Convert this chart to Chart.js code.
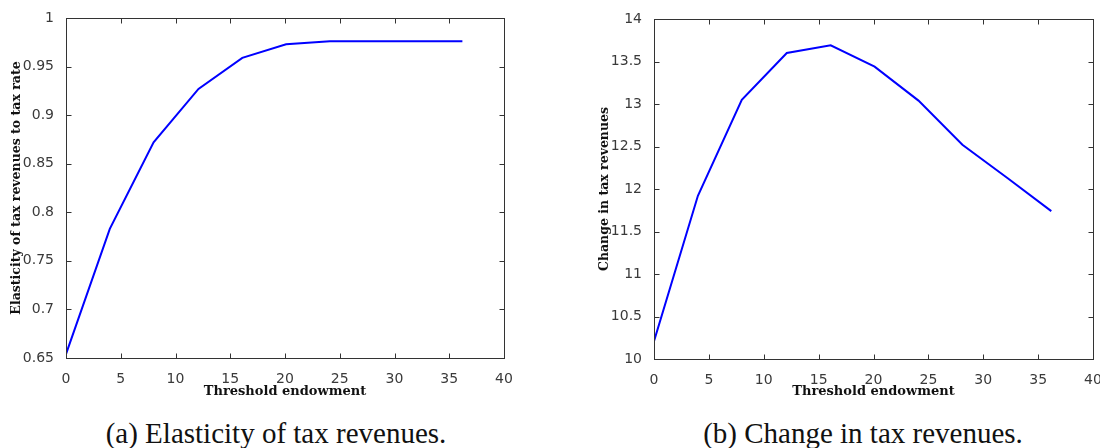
<!DOCTYPE html>
<html>
<head>
<meta charset="utf-8">
<script src="https://cdn.jsdelivr.net/npm/chart.js@4.4.1/dist/chart.umd.min.js"></script>
<style>
  html, body { margin: 0; padding: 0; background: #fff; overflow: hidden; }
  body { width: 1100px; height: 448px; position: relative; }
  canvas { position: absolute; top: 0; }
  .cap { position: absolute; top: 417px; width: 500px; font-family: "Liberation Serif", serif; font-size: 29px; line-height: 32px; color: #111; text-align: center; white-space: nowrap; }
</style>
</head>
<body>
<canvas id="chartA" width="550" height="400" style="left:0"></canvas>
<canvas id="chartB" width="560" height="400" style="left:550px"></canvas>
<div class="cap" style="left:26px">(a) Elasticity of tax revenues.</div>
<div class="cap" style="left:613px">(b) Change in tax revenues.</div>
<script>
// threshold endowment grid (x)
const threshold = [0, 4, 8, 12.1, 16.1, 20.1, 24.1, 28.1, 32.2, 36.2];
// (a) elasticity of tax revenues to tax rate
const elasticity = [0.654, 0.783, 0.872, 0.927, 0.959, 0.973, 0.976, 0.976, 0.976, 0.976];
// (b) change in tax revenues
const revenueChange = [10.21, 11.92, 13.05, 13.60, 13.69, 13.44, 13.04, 12.52, 12.13, 11.74];

const xTicks = [0, 5, 10, 15, 20, 25, 30, 35, 40];
const yTicksA = [0.65, 0.7, 0.75, 0.8, 0.85, 0.9, 0.95, 1];
const yTicksB = [10, 10.5, 11, 11.5, 12, 12.5, 13, 13.5, 14];

// matlab style box with inward ticks on all four sides
const boxTicks = {
    id: 'boxTicks',
    afterDatasetsDraw(chart) {
        const {ctx, chartArea: a, scales: {x, y}} = chart;
        const L = Math.round(a.left) + 0.5, R = Math.round(a.right) + 0.5;
        const T = Math.round(a.top) + 0.5, B = Math.round(a.bottom) + 0.5;
        ctx.save();
        ctx.strokeStyle = '#333';
        ctx.lineWidth = 1;
        ctx.beginPath();
        x.ticks.forEach(t => {
            const px = Math.round(x.getPixelForValue(t.value)) + 0.5;
            ctx.moveTo(px, B); ctx.lineTo(px, B - 5);
            ctx.moveTo(px, T); ctx.lineTo(px, T + 5);
        });
        y.ticks.forEach(t => {
            const py = Math.round(y.getPixelForValue(t.value)) + 0.5;
            ctx.moveTo(L, py); ctx.lineTo(L + 5, py);
            ctx.moveTo(R, py); ctx.lineTo(R - 5, py);
        });
        ctx.stroke();
        ctx.strokeRect(L, T, R - L, B - T);
        ctx.restore();
    }
};

const fmt = v => String(+v.toFixed(2));

function makeChart(id, values, yTicks, yTitle, lay) {
    return new Chart(document.getElementById(id), {
        type: 'line',
        data: {
            datasets: [{
                data: threshold.map((t, i) => ({x: t, y: values[i]})),
                borderColor: '#0000ff',
                borderWidth: 2,
                pointRadius: 0,
                tension: 0,
                fill: false
            }]
        },
        options: {
            responsive: false,
            animation: false,
            devicePixelRatio: 1,
            layout: {padding: {left: 0, top: lay.top, right: lay.right, bottom: 0}},
            plugins: {legend: {display: false}, tooltip: {enabled: false}},
            scales: {
                x: {
                    type: 'linear',
                    min: 0, max: 40,
                    afterBuildTicks: s => { s.ticks = xTicks.map(v => ({value: v})); },
                    afterFit: s => { s.height = lay.xh; },
                    grid: {display: false},
                    border: {display: false},
                    ticks: {padding: 5, color: '#3a3a3a', font: {family: 'DejaVu Sans', size: 14}, callback: fmt},
                    title: {display: true, text: 'Threshold endowment', color: '#111',
                        font: {family: 'DejaVu Serif', size: 13, weight: 'bold'}, padding: {top: 0, bottom: 1}}
                },
                y: {
                    type: 'linear',
                    min: yTicks[0], max: yTicks[yTicks.length - 1],
                    afterBuildTicks: s => { s.ticks = yTicks.map(v => ({value: v})); },
                    afterFit: s => { s.width = lay.yw; },
                    grid: {display: false},
                    border: {display: false},
                    ticks: {padding: 4, color: '#3a3a3a', font: {family: 'DejaVu Sans', size: 14}, callback: fmt},
                    title: {display: true, text: yTitle, color: '#111',
                        font: {family: 'DejaVu Serif', size: 12.5, weight: 'bold'}, padding: {top: lay.tp, bottom: 0}}
                }
            }
        },
        plugins: [boxTicks]
    });
}

makeChart('chartA', elasticity, yTicksA, 'Elasticity of tax revenues to tax rate',
    {top: 18, right: 46, xh: 42, yw: 66, tp: 9.5});
makeChart('chartB', revenueChange, yTicksB, 'Change in tax revenues',
    {top: 19, right: 17, xh: 41, yw: 104, tp: 47.5});
</script>
</body>
</html>
